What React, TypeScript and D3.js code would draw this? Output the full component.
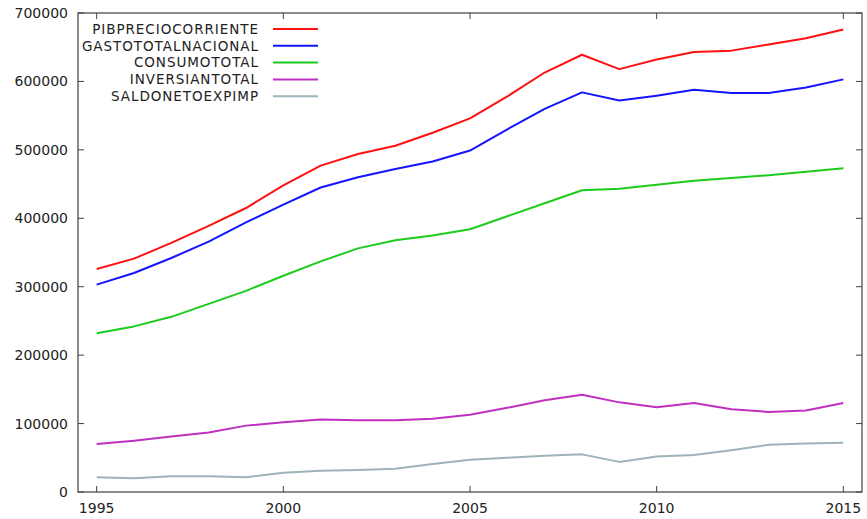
import React from "react";
import * as d3 from "d3";

const years = [1995,1996,1997,1998,1999,2000,2001,2002,2003,2004,2005,2006,2007,2008,2009,2010,2011,2012,2013,2014,2015];
const pib = [326000,341000,364000,389000,415000,448000,477000,494000,506000,525000,546000,578000,613000,639000,618000,632000,643000,645000,654000,663000,676000];
const gasto = [303000,320000,342000,366000,394000,420000,445000,460000,472000,483000,499000,530000,560000,584000,572000,579000,588000,583000,583000,591000,603000];
const consumo = [232000,242000,256000,275000,294000,316000,337000,356000,368000,375000,384000,403000,422000,441000,443000,449000,455000,459000,463000,468000,473000];
const inversion = [70000,75000,81000,87000,97000,102000,106000,105000,105000,107000,113000,123000,134000,142000,131000,124000,130000,121000,117000,119000,130000];
const saldo = [21500,20000,23000,23000,21500,28000,31000,32000,34000,41000,47000,50000,53000,55000,44000,52000,54000,61000,69000,71000,72000];

const seriesNames = ["PIBPRECIOCORRIENTE","GASTOTOTALNACIONAL","CONSUMOTOTAL","INVERSIANTOTAL","SALDONETOEXPIMP"];
const seriesColors = ["#ff1010","#1414ff","#1ccc1c","#c030c0","#9fb3bb"];
const yTicks = [0,100000,200000,300000,400000,500000,600000,700000];
const xTicks = [1995,2000,2005,2010,2015];

export default function App() {
  const W = 867, H = 519;
  const left = 78, right = 862, top = 13, bottom = 492;
  const x = d3.scaleLinear().domain([1994.5, 2015.5]).range([left, right]);
  const y = d3.scaleLinear().domain([0, 700000]).range([bottom, top]);
  const allSeries = [pib, gasto, consumo, inversion, saldo];
  const line = d3.line<number>().x((_, i) => x(years[i])).y(d => y(d));
  const font = "DejaVu Sans, Verdana, sans-serif";
  const axisColor = "#404040";
  return (
    <svg width={W} height={H} style={{ position: "absolute", left: 0, top: 0, background: "#fff" }}>
      <rect x={left} y={top} width={right - left} height={bottom - top} fill="none" stroke={axisColor} strokeWidth={1.2} />
      {yTicks.map(t => (
        <g key={"y" + t}>
          <line x1={left} x2={left + 6} y1={y(t)} y2={y(t)} stroke={axisColor} />
          <line x1={right} x2={right - 6} y1={y(t)} y2={y(t)} stroke={axisColor} />
          <text x={left - 10} y={y(t)} dy="0.36em" textAnchor="end" fontSize={14} fontFamily={font} fill="#222">{t}</text>
        </g>
      ))}
      {xTicks.map(t => (
        <g key={"x" + t}>
          <line x1={x(t)} x2={x(t)} y1={bottom} y2={bottom - 6} stroke={axisColor} />
          <line x1={x(t)} x2={x(t)} y1={top} y2={top + 6} stroke={axisColor} />
          <text x={x(t)} y={bottom + 21} textAnchor="middle" fontSize={14} fontFamily={font} fill="#222">{t}</text>
        </g>
      ))}
      {allSeries.map((s, k) => (
        <path key={"s" + k} d={line(s) || ""} fill="none" stroke={seriesColors[k]} strokeWidth={2} strokeLinejoin="round" />
      ))}
      {seriesNames.map((n, k) => {
        const ly = 29 + k * 16.8;
        return (
          <g key={"l" + k}>
            <text x={259} y={ly} dy="0.36em" textAnchor="end" fontSize={13.5} letterSpacing={0.95} fontFamily={font} fill="#222">{n}</text>
            <line x1={273} x2={318} y1={ly} y2={ly} stroke={seriesColors[k]} strokeWidth={2} />
          </g>
        );
      })}
    </svg>
  );
}
